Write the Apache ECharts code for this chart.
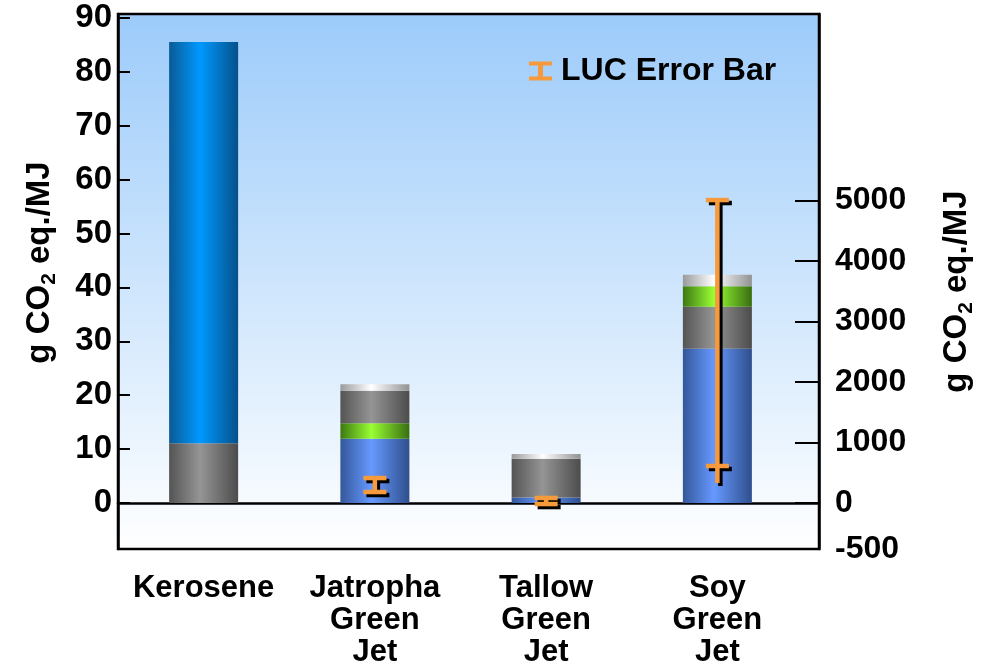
<!DOCTYPE html>
<html>
<head>
<meta charset="utf-8">
<script src="https://cdn.jsdelivr.net/npm/echarts@6/dist/echarts.min.js"></script>
<style>
html,body{margin:0;padding:0;background:#fff;}
#chart{width:986px;height:666px;}
</style>
</head>
<body>
<div id="chart"></div>
<script>
// ---- data (left axis units: g CO2 eq./MJ) ----
const categories = ['Kerosene', 'Jatropha\nGreen\nJet', 'Tallow\nGreen\nJet', 'Soy\nGreen\nJet'];
const feedstockBlue = [0, 11.9, 1.0, 28.6];
const grayLower     = [11.1, 0, 7.2, 7.8];
const greenPart     = [0, 2.9, 0, 3.8];
const grayUpper     = [0, 6.0, 0, 0];
const whiteTop      = [0, 1.25, 0.87, 2.15];
const keroseneFuel  = [74.4, 0, 0, 0];
// LUC error bars (right axis units)
const lucLow     = [null, 182, -17, 612];
const lucHigh    = [null, 413, 83, 5008];
const lucStemLow = [null, 182, -17, 331];
// tick labels
const leftTicks = [0, 10, 20, 30, 40, 50, 60, 70, 80, 90];
const rightTicks = [0, 1000, 2000, 3000, 4000, 5000];
const rightBottomLabel = '-500';

const LEFT_MIN = -8.53, LEFT_MAX = 90.7;
const RIGHT_MIN = -760, RIGHT_MAX = 8083;
const FONT = 'Liberation Sans, Arial, sans-serif';
const ORANGE = '#F79A3B';

function cyl(edgeL, center, edgeR) {
  return new echarts.graphic.LinearGradient(0, 0, 1, 0, [
    {offset: 0, color: edgeL}, {offset: 0.45, color: center}, {offset: 1, color: edgeR}
  ]);
}

const errData = [];
for (let i = 0; i < categories.length; i++) {
  if (lucHigh[i] != null) errData.push([i, lucLow[i], lucHigh[i], lucStemLow[i]]);
}

function barSeries(name, data, color) {
  return {
    name: name, type: 'bar', stack: 'total', xAxisIndex: 0, yAxisIndex: 0,
    barWidth: 69, data: data, itemStyle: {color: color}, silent: true
  };
}

const titleRich = {
  a: {fontSize: 33, fontWeight: 'bold', fontFamily: FONT, color: '#000', lineHeight: 40},
  s: {fontSize: 21, fontWeight: 'bold', fontFamily: FONT, color: '#000', lineHeight: 22, verticalAlign: 'bottom'}
};

const chart = echarts.init(document.getElementById('chart'));
chart.setOption({
  animation: false,
  backgroundColor: '#fff',
  legend: {
    left: 524, top: 50,
    itemWidth: 23, itemHeight: 19,
    data: [{name: 'LUC Error Bar',
            icon: 'path://M0,0H23V4H14V15H23V19H0V15H9V4H0Z',
            itemStyle: {color: ORANGE}}],
    textStyle: {fontSize: 32, fontWeight: 'bold', fontFamily: FONT, color: '#000', padding: [0, 0, 0, 4]}
  },
  grid: [
    {left: 118, right: 183, top: 14, bottom: 117, containLabel: false, outerBoundsMode: 'none'},
    {left: 118, right: 167, top: 14, bottom: 117, containLabel: false, outerBoundsMode: 'none', show: true,
     borderColor: '#000', borderWidth: 2.5,
     backgroundColor: new echarts.graphic.LinearGradient(0, 0, 0, 1, [
       {offset: 0, color: '#9CCBFA'}, {offset: 1, color: '#FFFFFF'}
     ])}
  ],
  xAxis: [
    {gridIndex: 0, type: 'category', data: categories,
     axisLine: {show: false, onZero: false}, axisTick: {show: false},
     splitLine: {show: false},
     axisLabel: {interval: 0, fontSize: 31, fontWeight: 'bold', fontFamily: FONT, color: '#000', lineHeight: 32, margin: 23}},
    {gridIndex: 1, type: 'value', min: 0, max: 1,
     axisLine: {show: true, onZero: true, lineStyle: {color: '#000', width: 2.5}},
     axisTick: {show: false}, axisLabel: {show: false}, splitLine: {show: false}}
  ],
  yAxis: [
    {gridIndex: 0, type: 'value', position: 'left', min: LEFT_MIN, max: LEFT_MAX,
     axisLine: {show: true, onZero: false, lineStyle: {color: '#000', width: 2.5}},
     axisTick: {show: true, inside: true, length: 12, lineStyle: {color: '#000', width: 2}, customValues: leftTicks},
     axisLabel: {customValues: leftTicks, fontSize: 33, fontWeight: 'bold', fontFamily: FONT, color: '#000', margin: 6},
     splitLine: {show: false},
     name: '{a|g CO}{s|2}{a| eq./MJ}', nameLocation: 'middle', nameRotate: 90, nameGap: 58,
     nameTextStyle: {rich: titleRich, padding: [0, 0, 0, 38]}},
    {gridIndex: 1, type: 'value', position: 'right', min: RIGHT_MIN, max: RIGHT_MAX,
     axisLine: {show: true, onZero: false, lineStyle: {color: '#000', width: 2.5}},
     axisTick: {show: true, inside: true, length: 24, lineStyle: {color: '#000', width: 2}, customValues: rightTicks},
     axisLabel: {customValues: [RIGHT_MIN].concat(rightTicks), fontSize: 32, fontWeight: 'bold', fontFamily: FONT, color: '#000', margin: 16,
       formatter: function (v) { return v === RIGHT_MIN ? rightBottomLabel : String(v); }},
     splitLine: {show: false},
     name: '{a|g CO}{s|2}{a| eq./MJ}', nameLocation: 'middle', nameRotate: 90, nameGap: 118,
     nameTextStyle: {rich: titleRich, padding: [0, 20, 0, 0]}},
    {gridIndex: 0, type: 'value', show: false, min: RIGHT_MIN, max: RIGHT_MAX, splitLine: {show: false},
     axisLine: {onZero: false}}
  ],
  series: [
    barSeries('Feedstock', feedstockBlue, cyl('#34579A', '#6699FF', '#2F4F8C')),
    barSeries('Processing A', grayLower, cyl('#545454', '#959595', '#4C4C4C')),
    barSeries('Co-product', greenPart, cyl('#3C7812', '#99FF33', '#386E10')),
    barSeries('Processing B', grayUpper, cyl('#545454', '#959595', '#4C4C4C')),
    barSeries('Transport', whiteTop, cyl('#9A9A9A', '#FFFFFF', '#929292')),
    barSeries('Combustion', keroseneFuel, cyl('#0A5A96', '#0099FF', '#06508A')),
    {
      name: 'LUC Error Bar', type: 'custom', xAxisIndex: 0, yAxisIndex: 2, z: 5,
      data: errData,
      encode: {x: 0, y: [1, 2, 3]},
      renderItem: function (params, api) {
        const i = api.value(0);
        const pHi = api.coord([i, api.value(2)]);
        const pLo = api.coord([i, api.value(1)]);
        const pSt = api.coord([i, api.value(3)]);
        const x = pHi[0];
        const capW = 23, capH = 4.5, stemW = 4.5, off = 3;
        function parts(dx, dy, fill) {
          return [
            {type: 'rect', shape: {x: x - stemW / 2 + dx, y: pHi[1] + dy, width: stemW, height: pSt[1] - pHi[1]}, style: {fill: fill}},
            {type: 'rect', shape: {x: x - capW / 2 + dx, y: pHi[1] - capH / 2 + dy, width: capW, height: capH}, style: {fill: fill}},
            {type: 'rect', shape: {x: x - capW / 2 + dx, y: pLo[1] - capH / 2 + dy, width: capW, height: capH}, style: {fill: fill}}
          ];
        }
        return {type: 'group', children: parts(off, off, '#000').concat(parts(0, 0, ORANGE))};
      }
    }
  ]
});
</script>
</body>
</html>
